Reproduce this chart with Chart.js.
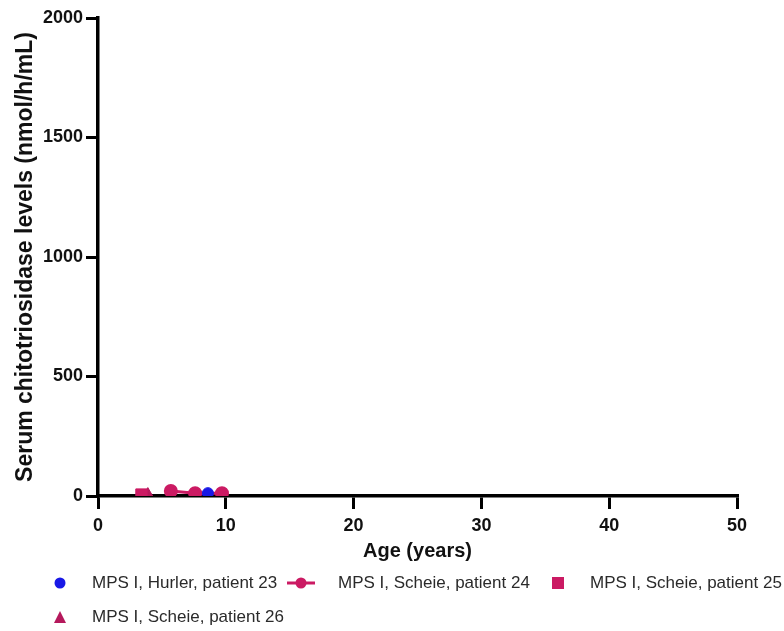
<!DOCTYPE html>
<html>
<head>
<meta charset="utf-8">
<script src="https://cdn.jsdelivr.net/npm/chart.js@4"></script>
<style>
  html, body { margin: 0; padding: 0; background: #fff; }
  #wrap { position: relative; width: 784px; height: 631px; }
  #chart { position: absolute; left: 0; top: 0; }
  .key { position: absolute; font-family: "Liberation Sans", Arial, sans-serif; font-size: 17px; color: #2a2a2a; line-height: 20px; white-space: nowrap; }
  .mark { position: absolute; }
</style>
</head>
<body>
<div id="wrap">
  <canvas id="chart" width="784" height="631"></canvas>
  <div id="legend"></div>
</div>
<script>
// data
const seriesNames = [
  "MPS I, Hurler, patient 23",
  "MPS I, Scheie, patient 24",
  "MPS I, Scheie, patient 25",
  "MPS I, Scheie, patient 26"
];
const p23Age = [8.6];
const p23Chito = [12];
const p24Age = [5.7, 7.6, 9.7];
const p24Chito = [21, 12, 12];
const p25Age = [3.4];
const p25Chito = [6];
const p26Age = [3.9];
const p26Chito = [10];
const xTicks = [0, 10, 20, 30, 40, 50];
const yTicks = [0, 500, 1000, 1500, 2000];

const blue = "#1818e6";
const magenta = "#cb1a63";
const darkMagenta = "#b5195c";

function toPoints(xs, ys) {
  return xs.map((x, i) => ({ x: x, y: ys[i] }));
}

const tickFont = { family: "Liberation Sans", size: 18, weight: "bold" };

const ctx = document.getElementById("chart").getContext("2d");
new Chart(ctx, {
  type: "scatter",
  data: {
    datasets: [
      {
        label: seriesNames[0],
        data: toPoints(p23Age, p23Chito),
        pointStyle: "circle",
        pointRadius: 5.5,
        backgroundColor: blue,
        borderColor: blue,
        showLine: false,
      },
      {
        label: seriesNames[1],
        data: toPoints(p24Age, p24Chito),
        pointStyle: "circle",
        pointRadius: 5.5,
        backgroundColor: magenta,
        borderColor: magenta,
        borderWidth: 3,
        showLine: true,
      },
      {
        label: seriesNames[2],
        data: toPoints(p25Age, p25Chito),
        pointStyle: "rect",
        pointRadius: 8,
        backgroundColor: magenta,
        borderColor: magenta,
        showLine: false,
      },
      {
        label: seriesNames[3],
        data: toPoints(p26Age, p26Chito),
        pointStyle: "triangle",
        pointRadius: 6,
        backgroundColor: darkMagenta,
        borderColor: darkMagenta,
        showLine: false,
      },
    ],
  },
  options: {
    responsive: false,
    animation: false,
    layout: { padding: { left: 0, right: 47, top: 18, bottom: 61 } },
    plugins: {
      tooltip: { enabled: false },
      legend: { display: false },
    },
    scales: {
      x: {
        type: "linear",
        min: 0,
        max: 50,
        afterBuildTicks: (axis) => { axis.ticks = xTicks.map((v) => ({ value: v })); },
        afterFit: (axis) => { axis.height = 74; },
        grid: { drawOnChartArea: false, drawTicks: true, tickLength: 13, color: "#000", lineWidth: 3 },
        border: { color: "#000", width: 3.5 },
        ticks: { color: "#111", padding: 6, font: tickFont },
        title: {
          display: true,
          text: "Age (years)",
          color: "#111",
          padding: { top: 0, bottom: 7 },
          font: { family: "Liberation Sans", size: 20, weight: "bold" },
        },
      },
      y: {
        type: "linear",
        min: 0,
        max: 2000,
        afterBuildTicks: (axis) => { axis.ticks = yTicks.map((v) => ({ value: v })); },
        afterFit: (axis) => { axis.width = 98; },
        grid: { drawOnChartArea: false, drawTicks: true, tickLength: 12, color: "#000", lineWidth: 3 },
        border: { color: "#000", width: 3.5 },
        ticks: {
          color: "#111",
          padding: 3,
          font: tickFont,
          callback: (v) => String(v),
        },
        title: {
          display: true,
          text: "Serum chitotriosidase levels (nmol/h/mL)",
          color: "#111",
          padding: { top: 12, bottom: 12 },
          font: { family: "Liberation Sans", size: 23, weight: "bold" },
        },
      },
    },
  },
});

// legend drawn as html below the chart
const legendKeys = [
  { text: seriesNames[0], x: 92, y: 573, mark: '<circle cx="8" cy="8" r="5.5" fill="' + blue + '"/>', mx: 52 },
  { text: seriesNames[1], x: 338, y: 573, mark: '<line x1="0" y1="8" x2="28" y2="8" stroke="' + magenta + '" stroke-width="3"/><circle cx="14" cy="8" r="5.5" fill="' + magenta + '"/>', mx: 287 },
  { text: seriesNames[2], x: 590, y: 573, mark: '<rect x="2" y="2" width="12" height="12" fill="' + magenta + '"/>', mx: 550 },
  { text: seriesNames[3], x: 92, y: 607, mark: '<polygon points="8,2 14,14 2,14" fill="' + darkMagenta + '"/>', mx: 52 },
];
const legendEl = document.getElementById("legend");
legendKeys.forEach((k) => {
  const w = k.mark.indexOf("line") >= 0 ? 28 : 16;
  legendEl.insertAdjacentHTML("beforeend",
    '<svg class="mark" style="left:' + k.mx + 'px;top:' + (k.y + 2) + 'px" width="' + w + '" height="16">' + k.mark + '</svg>' +
    '<div class="key" style="left:' + k.x + 'px;top:' + k.y + 'px">' + k.text + '</div>');
});
</script>
</body>
</html>
